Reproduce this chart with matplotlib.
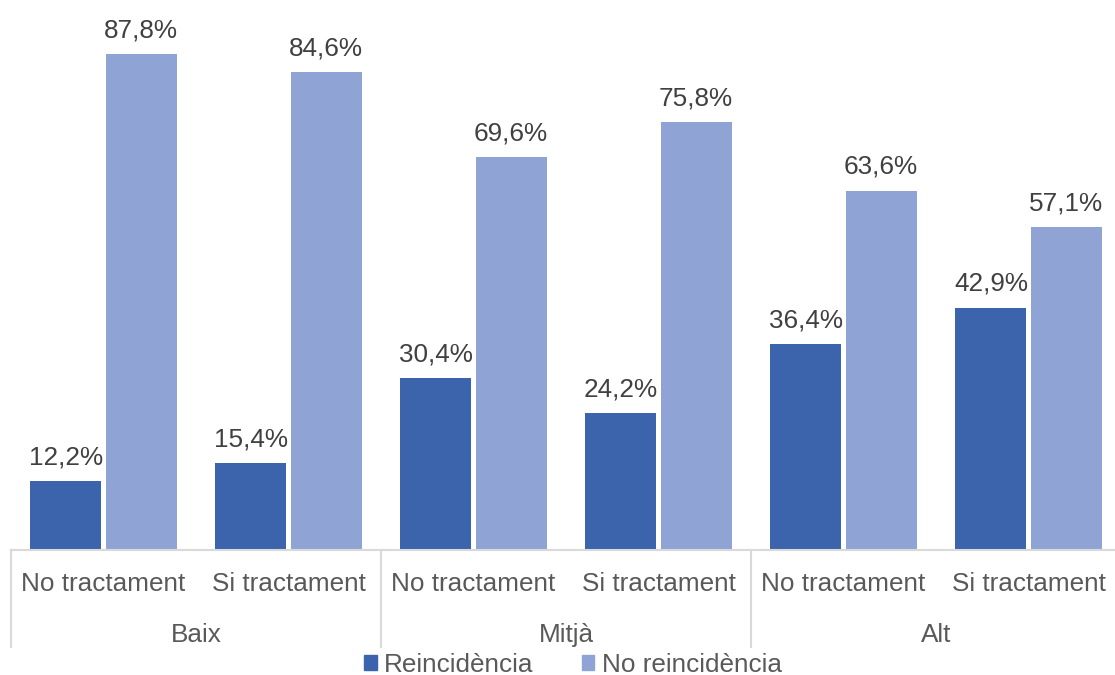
import matplotlib
matplotlib.use("Agg")
import matplotlib.pyplot as plt
import matplotlib.transforms as mtransforms
from matplotlib.patches import Patch
import numpy as np

plt.rcParams['font.family'] = ['Liberation Sans', 'DejaVu Sans']

groups = ["Baix", "Mitjà", "Alt"]
treatments = ["No tractament", "Si tractament"]
reincidencia = [12.2, 15.4, 30.4, 24.2, 36.4, 42.9]
no_reincidencia = [87.8, 84.6, 69.6, 75.8, 63.6, 57.1]
series_names = ["Reincidència", "No reincidència"]

DARK = "#3C64AD"
LIGHT = "#8FA4D4"
GRID = "#D9D9D9"
FS = 18.8

fig = plt.figure(figsize=(11.15, 6.75), dpi=100)
ax = fig.add_axes([11 / 1115, 125 / 675, 1110 / 1115, 508.5 / 675])

x = np.arange(len(reincidencia))
w = 0.384
off = 0.203
b1 = ax.bar(x - off, reincidencia, w, color=DARK)
b2 = ax.bar(x + off, no_reincidencia, w, color=LIGHT)

for bars, vals in [(b1, reincidencia), (b2, no_reincidencia)]:
    for rect, v in zip(bars, vals):
        ax.annotate(f"{v:.1f}%".replace(".", ","),
                    (rect.get_x() + rect.get_width() / 2, v),
                    xytext=(0, 12), textcoords="offset points",
                    ha="center", va="baseline", fontsize=FS, color="#404040")

ax.set_xlim(-0.5, len(reincidencia) - 0.5)
ax.set_ylim(0, 90)
for s in ["top", "right", "left"]:
    ax.spines[s].set_visible(False)
ax.spines["bottom"].set_color(GRID)
ax.spines["bottom"].set_linewidth(1.5)
ax.set_yticks([])
ax.set_xticks([])

trans = mtransforms.blended_transform_factory(ax.transData, ax.transAxes)
n_t = len(treatments)
for i in range(len(reincidencia)):
    ax.text(i, -0.067, treatments[i % n_t], transform=trans, ha="center",
            va="center", fontsize=FS, color="#595959")
for g, name in enumerate(groups):
    ax.text(g * n_t + (n_t - 1) / 2, -0.167, name, transform=trans, ha="center",
            va="center", fontsize=FS, color="#595959")
for g in range(len(groups) + 1):
    xs = g * n_t - 0.5
    ax.plot([xs, xs], [0, -0.19], transform=trans, color=GRID, lw=1.5,
            clip_on=False)

handles = [Patch(color=DARK), Patch(color=LIGHT)]
fig.legend(handles, series_names, loc="center", bbox_to_anchor=(0.514, 0.015),
           ncol=2, frameon=False, fontsize=FS, handlelength=0.46,
           handleheight=0.46, handletextpad=0.3, columnspacing=1.84,
           labelcolor="#595959")

fig.savefig("out.png", dpi=100)
